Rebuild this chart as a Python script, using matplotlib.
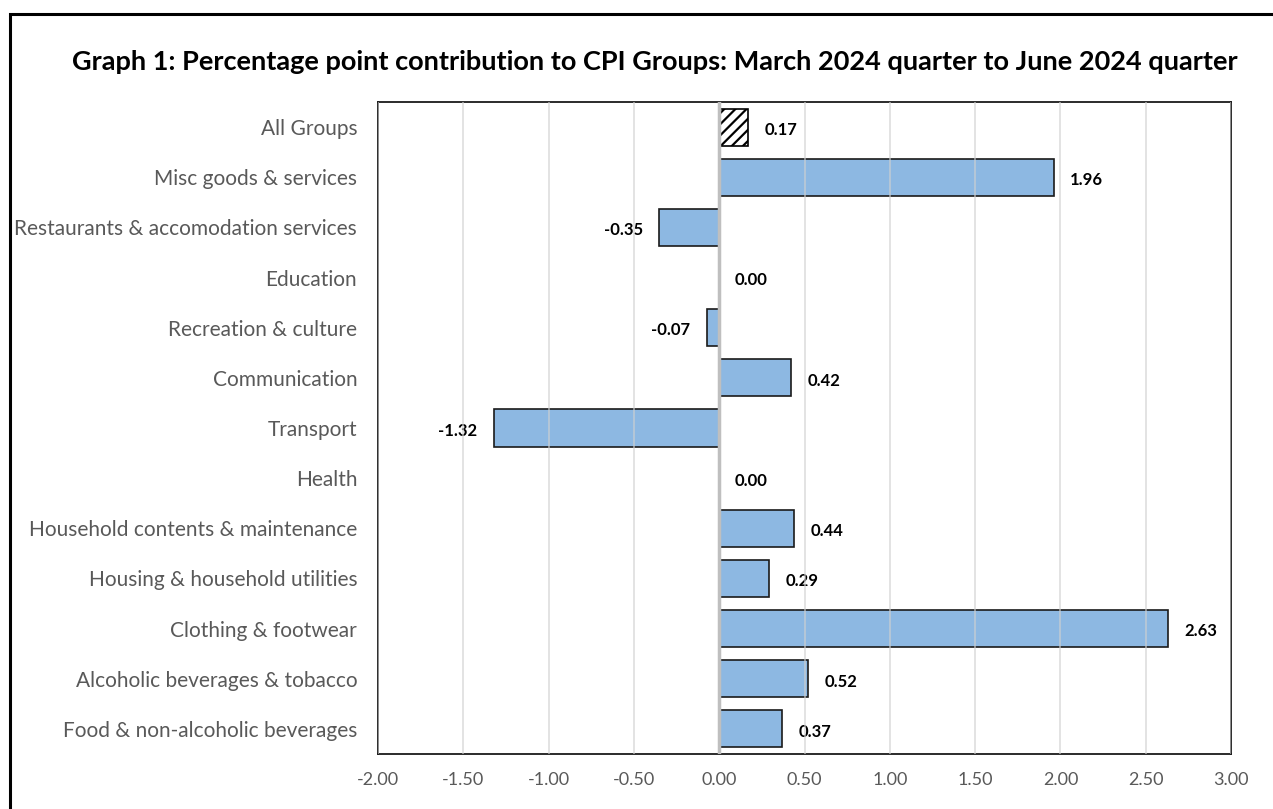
import matplotlib
matplotlib.use("Agg")
import matplotlib.pyplot as plt
from matplotlib.patches import Rectangle

categories = ["All Groups", "Misc goods & services", "Restaurants & accomodation services",
              "Education", "Recreation & culture", "Communication", "Transport", "Health",
              "Household contents & maintenance", "Housing & household utilities",
              "Clothing & footwear", "Alcoholic beverages & tobacco", "Food & non-alcoholic beverages"]
values = [0.17, 1.96, -0.35, 0.00, -0.07, 0.42, -1.32, 0.00, 0.44, 0.29, 2.63, 0.52, 0.37]
xticks = [-2.0, -1.5, -1.0, -0.5, 0.0, 0.5, 1.0, 1.5, 2.0, 2.5, 3.0]
title = "Graph 1: Percentage point contribution to CPI Groups: March 2024 quarter to June 2024 quarter"

plt.rcParams['font.family'] = ['Lato', 'DejaVu Sans']
plt.rcParams['hatch.linewidth'] = 1.6

W, H = 1273, 809
fig = plt.figure(figsize=(W / 100, H / 100), dpi=100)
left, right, top, bottom = 378, 1231, 102, 754
ax = fig.add_axes([left / W, 1 - bottom / H, (right - left) / W, (bottom - top) / H])

# outer frame (cropped on right and bottom)
fig.patches.append(Rectangle((10 / W, -0.05), 1.2, (H - 14) / H + 0.05, transform=fig.transFigure,
                             fill=False, edgecolor='black', linewidth=2.2, zorder=0))

n = len(categories)
ypos = list(range(n))
for i, (c, v) in enumerate(zip(categories, values)):
    if i == 0:
        ax.barh(i, v, height=0.74, color='white', edgecolor='black', hatch='///', linewidth=1.2, zorder=2)
    else:
        ax.barh(i, v, height=0.74, color='#8DB8E2', edgecolor='#1a1a1a', linewidth=1.2, zorder=2)
    if v > 0:
        ax.annotate(f"{v:.2f}", (v, i), xytext=(12, -2), textcoords='offset points',
                    ha='left', va='center', fontsize=12, fontweight='bold', color='black')
    elif v < 0:
        ax.annotate(f"{v:.2f}", (v, i), xytext=(-12, -2), textcoords='offset points',
                    ha='right', va='center', fontsize=12, fontweight='bold', color='black')
    else:
        ax.annotate(f"{v:.2f}", (v, i), xytext=(11, -2), textcoords='offset points',
                    ha='left', va='center', fontsize=12, fontweight='bold', color='black')

ax.set_xlim(-2, 3)
ax.set_ylim(n - 0.5, -0.5)
ax.set_xticks(xticks)
ax.set_xticklabels([f"{t:.2f}" for t in xticks], fontsize=13, color='#595959')
ax.set_yticks(ypos)
ax.set_yticklabels(categories, fontsize=15, color='#595959')
ax.tick_params(axis='both', length=0)
ax.tick_params(axis='y', pad=15)
ax.tick_params(axis='x', pad=13)
for t in xticks:
    if t != 0:
        ax.axvline(t, color='#d0d0d0', linewidth=1.2, zorder=3, alpha=0.7)
ax.axvline(0, color='#bfbfbf', linewidth=2.5, zorder=4)
for s in ax.spines.values():
    s.set_color('#1a1a1a')
    s.set_linewidth(1.3)

fig.text(655 / W, 1 - 62 / H, title, ha='center', va='center', fontsize=19.5, fontweight='bold', color='black')

fig.savefig("out.png", dpi=100)
